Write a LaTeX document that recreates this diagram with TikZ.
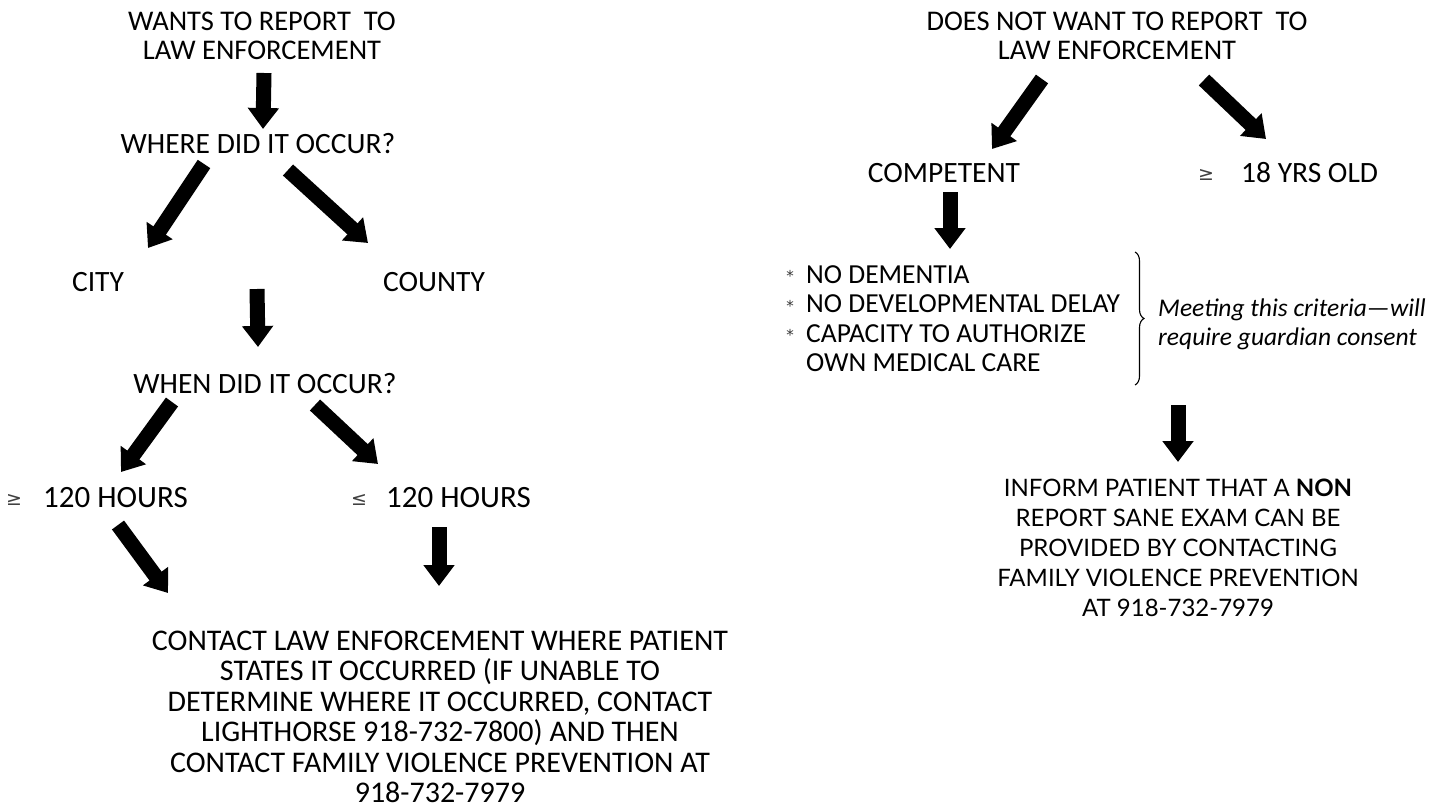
\documentclass[tikz,border=0pt]{standalone}
\usepackage{fontspec}
\setmainfont{Carlito}
\newfontfamily\infofont{Lato}
\newfontfamily\symfont{DejaVu Sans}
\usetikzlibrary{arrows.meta,decorations.pathreplacing}
\tikzset{
  lbl/.style={inner sep=0pt, align=center, font=\fontsize{29.5}{30}\selectfont},
  ttl/.style={inner sep=0pt, align=center, font=\fontsize{28.5}{29.5}\selectfont},
  hrs/.style={inner sep=0pt, font=\fontsize{31}{31}\selectfont},
  listtxt/.style={inner sep=0pt, align=left, font=\fontsize{27.5}{29.5}\selectfont},
  infotxt/.style={inner sep=0pt, align=center, font=\infofont\fontsize{24}{30}\selectfont},
  bottomtxt/.style={inner sep=0pt, align=center, font=\fontsize{30}{30.5}\selectfont},
  note/.style={inner sep=0pt, align=left, font=\itshape\fontsize{25.5}{29}\selectfont},
  sym/.style={inner sep=0pt, font=\symfont\fontsize{19}{19}\selectfont, text=black!75},
  star/.style={inner sep=0pt, font=\symfont\fontsize{15}{15}\selectfont, text=black!80},
  blk/.style={line width=15pt, -{Triangle[length=21pt,width=30pt]}},
}
\begin{document}
\begin{tikzpicture}[x=1pt,y=-1pt]
\useasboundingbox (0,0) rectangle (1445,808);
% ---------- left branch ----------
\node[ttl] (wants) at (262,36) {WANTS TO REPORT\ \ TO\\LAW ENFORCEMENT};
\node[lbl] (where) at (258,144) {WHERE DID IT OCCUR?};
\node[lbl] (city) at (98,282) {CITY};
\node[lbl] (county) at (434,282) {COUNTY};
\node[lbl] (when) at (265,384) {WHEN DID IT OCCUR?};
\node[hrs,anchor=west] (geh) at (43,498) {120 HOURS};
\node[sym] (ges) at (14,500) {≥};
\node[hrs,anchor=west] (leh) at (386,498) {120 HOURS};
\node[sym] (les) at (359,500) {≤};
\node[bottomtxt] (contact) at (440,717) {CONTACT LAW ENFORCEMENT WHERE PATIENT\\STATES IT OCCURRED (IF UNABLE TO\\DETERMINE WHERE IT OCCURRED, CONTACT\\LIGHTHORSE 918-732-7800) AND THEN\\CONTACT FAMILY VIOLENCE PREVENTION AT\\918-732-7979};
% arrows left
\coordinate (a1s) at (264,73);  \coordinate (a1e) at (263,129);
\coordinate (a2s) at (204,164); \coordinate (a2e) at (148,248);
\coordinate (a3s) at (288,170); \coordinate (a3e) at (368,243);
\coordinate (a4s) at (257,289); \coordinate (a4e) at (258,347);
\coordinate (a5s) at (172,402); \coordinate (a5e) at (121,472);
\coordinate (a6s) at (315,405); \coordinate (a6e) at (378,464);
\coordinate (a7s) at (118,525); \coordinate (a7e) at (168,593);
\coordinate (a8s) at (439,527); \coordinate (a8e) at (439,586);
\foreach \s/\e in {a1s/a1e,a2s/a2e,a3s/a3e,a4s/a4e,a5s/a5e,a6s/a6e,a7s/a7e,a8s/a8e}
  \draw[blk] (\s) -- (\e);
% ---------- right branch ----------
\node[ttl] (dnw) at (1117,36) {DOES NOT WANT TO REPORT\ \ TO\\LAW ENFORCEMENT};
\node[lbl] (comp) at (944,173) {COMPETENT};
\node[lbl,anchor=west] (age) at (1241,173) {18 YRS OLD};
\node[sym] (ages) at (1206,175) {≥};
\node[listtxt,anchor=north west] (list) at (806,265) {NO DEMENTIA\\NO DEVELOPMENTAL DELAY\\CAPACITY TO AUTHORIZE\\OWN MEDICAL CARE};
\node[star] (st1) at (790,276) {*};
\node[star] (st2) at (790,306) {*};
\node[star] (st3) at (790,335) {*};
\coordinate (brt) at (1135,252); \coordinate (brb) at (1135,385);
\draw[line width=1.1pt, decorate, decoration={brace, amplitude=9pt}] (brt) -- (brb);
\node[note,anchor=west] (meet) at (1158,324) {Meeting this criteria—will\\require guardian consent};
\node[infotxt] (inform) at (1178,548) {INFORM PATIENT THAT A \textbf{NON}\\REPORT SANE EXAM CAN BE\\PROVIDED BY CONTACTING\\FAMILY VIOLENCE PREVENTION\\AT 918-732-7979};
\coordinate (b1s) at (1042,79);  \coordinate (b1e) at (992,149);
\coordinate (b2s) at (1204,80);  \coordinate (b2e) at (1266,139);
\coordinate (b3s) at (950,192);  \coordinate (b3e) at (950,249);
\coordinate (b4s) at (1178,405); \coordinate (b4e) at (1178,462);
\foreach \s/\e in {b1s/b1e,b2s/b2e,b3s/b3e,b4s/b4e}
  \draw[blk] (\s) -- (\e);
\end{tikzpicture}
\end{document}
